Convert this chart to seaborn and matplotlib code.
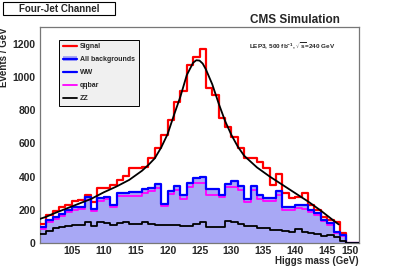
import matplotlib
matplotlib.use("Agg")
import matplotlib.pyplot as plt
import pandas as pd
import seaborn as sns
from matplotlib.lines import Line2D
from matplotlib.patches import Patch, Rectangle
from matplotlib.ticker import MultipleLocator

# ---------------- data: 50 bins of 1 GeV, 100..150 ----------------
mass = [100.5 + i for i in range(50)]
signal = [113, 170, 195, 215, 227, 251, 256, 290, 245, 329,
          331, 349, 380, 405, 450, 450, 460, 510, 570, 650,
          740, 850, 915, 1070, 1120, 1170, 930, 890, 750, 700,
          640, 570, 510, 510, 490, 450, 349, 413, 299, 269,
          279, 299, 229, 199, 158, 138, 128, 58, 0, 0]
all_bkg = [96, 139, 157, 177, 197, 217, 217, 277, 207, 269,
           279, 229, 299, 299, 305, 305, 325, 331, 354, 235,
           314, 341, 286, 361, 391, 399, 328, 328, 289, 353,
           374, 342, 264, 341, 289, 269, 269, 313, 219, 219,
           229, 229, 199, 179, 139, 119, 68, 48, 0, 0]
qqbar = [85, 128, 146, 165, 185, 200, 205, 260, 195, 250,
         262, 215, 282, 282, 285, 285, 300, 310, 330, 220,
         292, 318, 262, 338, 362, 362, 290, 290, 275, 335,
         340, 318, 248, 318, 262, 255, 252, 290, 200, 200,
         210, 206, 185, 170, 130, 110, 60, 40, 0, 0]
zz = [52, 72, 88, 96, 104, 108, 108, 128, 104, 124,
      118, 108, 118, 124, 113, 113, 126, 116, 108, 106,
      108, 109, 104, 104, 112, 126, 98, 98, 98, 130,
      126, 116, 103, 100, 93, 93, 78, 78, 72, 68,
      84, 64, 58, 52, 44, 48, 38, 12, 0, 0]

fit_mass = [100, 101, 102, 104, 106, 108, 110, 112, 114, 116, 117, 118,
            119, 120, 121, 122, 123, 124, 124.5, 125, 125.5, 126, 127,
            128, 129, 130, 131, 132, 134, 136, 138, 140, 142, 144, 146, 146.8]
fit_val = [145, 158, 175, 205, 235, 265, 305, 340, 380, 435, 470, 510,
           575, 655, 770, 880, 1010, 1085, 1100, 1098, 1080, 1045, 955,
           840, 735, 650, 580, 525, 455, 400, 350, 300, 250, 195, 135, 112]

hist_df = pd.DataFrame({'mass': mass, 'signal': signal, 'all_bkg': all_bkg,
                        'qqbar': qqbar, 'zz': zz})
bin_kw = dict(binwidth=1, binrange=(100, 150), element='step')

# ---------------- style ----------------
sns.set_style("white")
plt.rcParams['font.family'] = ['Liberation Sans', 'DejaVu Sans']
plt.rcParams['font.weight'] = 'bold'
plt.rcParams['axes.labelweight'] = 'bold'
plt.rcParams['mathtext.fontset'] = 'custom'
plt.rcParams['mathtext.rm'] = 'Liberation Sans:bold'
plt.rcParams['mathtext.it'] = 'Liberation Sans:bold'
plt.rcParams['mathtext.bf'] = 'Liberation Sans:bold'

bkg_fill = '#a8a8f5'

fig = plt.figure(figsize=(3.99, 2.70), dpi=100)
ax = fig.add_axes([0.100, 0.100, 0.800, 0.800])

# background fill
sns.histplot(data=hist_df, x='mass', weights='all_bkg', fill=True,
             color=bkg_fill, alpha=1, linewidth=0, ax=ax, **bin_kw)

# histograms
sns.histplot(data=hist_df, x='mass', weights='signal', fill=False,
             color='red', linewidth=1.6, ax=ax, zorder=3, **bin_kw)
sns.histplot(data=hist_df, x='mass', weights='qqbar', fill=False,
             color='magenta', linewidth=1.3, ax=ax, zorder=4, **bin_kw)
sns.histplot(data=hist_df, x='mass', weights='all_bkg', fill=False,
             color='blue', linewidth=1.6, ax=ax, zorder=5, **bin_kw)
sns.histplot(data=hist_df, x='mass', weights='zz', fill=False,
             color='black', linewidth=1.3, ax=ax, zorder=6, **bin_kw)
sns.lineplot(x=fit_mass, y=fit_val, color='black', linewidth=1.3, ax=ax, zorder=7)

ax.set_xlim(100, 150)
ax.set_ylim(0, 1300)

# axes
ax.set_xticks(range(105, 151, 5))
ax.xaxis.set_minor_locator(MultipleLocator(1))
ax.yaxis.set_major_locator(MultipleLocator(200))
ax.yaxis.set_minor_locator(MultipleLocator(50))
ax.tick_params(which='both', direction='in', top=False, right=False,
               width=0.7, color='#555555', labelsize=7.5)
ax.tick_params(which='major', length=4.5)
ax.tick_params(which='minor', length=2.2)
ax.tick_params(axis='x', which='major', pad=2)
ax.tick_params(axis='y', which='major', pad=3)
ax.get_xticklabels()[-1].set_ha('right')
for s in ax.spines.values():
    s.set_color('#777777')
    s.set_linewidth(0.9)

ax.set_xlabel('Higgs mass (GeV)', fontsize=7, loc='right')
ax.xaxis.set_label_coords(1.0, -0.062)
ax.xaxis.label.set_va('top')
ax.set_ylabel('Events / GeV', fontsize=7, loc='top')
ax.yaxis.set_label_coords(-0.098, 1.0)

# legend
handles = [Line2D([], [], color='red', lw=1.6),
           (Patch(facecolor=bkg_fill, edgecolor='none'), Line2D([], [], color='blue', lw=1.6)),
           Line2D([], [], color='blue', lw=1.6),
           Line2D([], [], color='magenta', lw=1.3),
           Line2D([], [], color='black', lw=1.3)]
labels = ['Signal', 'All backgrounds', 'WW', 'qqbar', 'ZZ']
leg = ax.legend(handles, labels, loc='upper left', bbox_to_anchor=(0.061, 0.94),
                fontsize=5, frameon=True, fancybox=False, framealpha=1,
                facecolor='#f0f0f0', edgecolor='black', handlelength=2.0,
                handletextpad=0.5, labelspacing=0.85, borderpad=0.5,
                borderaxespad=0)
leg.get_frame().set_linewidth(0.7)

# title boxes
fig.patches.append(Rectangle((3 / 399, 1 - 15 / 270), 112 / 399, 13 / 270,
                             transform=fig.transFigure, facecolor='white',
                             edgecolor='black', linewidth=0.8))
fig.text(59 / 399, 1 - 8.5 / 270, 'Four-Jet Channel', ha='center', va='center',
         fontsize=7)
fig.text(295 / 399, 1 - 20 / 270, 'CMS Simulation', ha='center', va='center',
         fontsize=8.5)
fig.text(292 / 399, 1 - 46 / 270,
         r'LEP3, 500 fb$^{-1}$, $\sqrt{s}$=240 GeV', ha='center', va='center',
         fontsize=4.6)

fig.savefig('out.png', dpi=100)
